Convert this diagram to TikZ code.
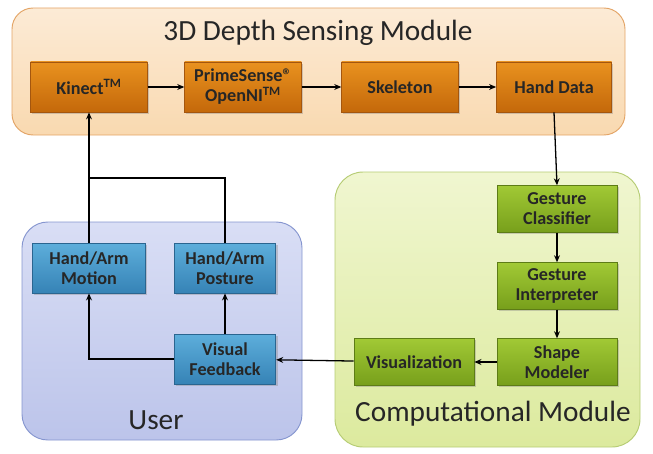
\documentclass[tikz,border=0pt]{standalone}
\usepackage{fontspec}
\setmainfont{Carlito}
\usetikzlibrary{arrows.meta,shadows}
\definecolor{peachtop}{HTML}{FCEBD6}
\definecolor{peachbot}{HTML}{F9D9B0}
\definecolor{peachline}{HTML}{E3A466}
\definecolor{bluetop}{HTML}{D9DEF5}
\definecolor{bluebot}{HTML}{BCC4EA}
\definecolor{blueline}{HTML}{8595CF}
\definecolor{greentop}{HTML}{F0F6D0}
\definecolor{greenbot}{HTML}{DCEA9E}
\definecolor{greenline}{HTML}{B6CC74}
\definecolor{orangetop}{HTML}{E9921F}
\definecolor{orangebot}{HTML}{C4680A}
\definecolor{orangeline}{HTML}{A4560E}
\definecolor{stepbluetop}{HTML}{5DAEDB}
\definecolor{stepbluebot}{HTML}{3683B6}
\definecolor{stepblueline}{HTML}{2A6590}
\definecolor{stepgreentop}{HTML}{A1C935}
\definecolor{stepgreenbot}{HTML}{779F1B}
\definecolor{stepgreenline}{HTML}{5D7C16}
\begin{document}
\begin{tikzpicture}[x=0.03cm, y=-0.03cm,
    blockbox/.style={draw, line width=0.6pt, align=center, font=\fontsize{15.5}{17}\selectfont\bfseries,
        text=black!85, inner sep=2pt, drop shadow={opacity=0.35, shadow xshift=1.5pt, shadow yshift=-1.5pt}},
    orangebox/.style={blockbox, draw=orangeline, top color=orangetop, bottom color=orangebot,
        minimum width=3.5cm, minimum height=1.5cm},
    bluebox/.style={blockbox, draw=stepblueline, top color=stepbluetop, bottom color=stepbluebot,
        minimum height=1.5cm},
    greenbox/.style={blockbox, draw=stepgreenline, top color=stepgreentop, bottom color=stepgreenbot,
        minimum width=3.6cm, minimum height=1.4cm},
    flow/.style={-{Stealth[length=6pt,width=5pt]}, line width=1.1pt},
    link/.style={line width=1.1pt},
    modtitle/.style={font=\fontsize{25}{27}\selectfont, text=black!85}]
    \useasboundingbox (0, 0) rectangle (653, 453);
    % module frames
    \draw[draw=peachline, line width=0.8pt, top color=peachtop, bottom color=peachbot, rounded corners=18] (12, 8) rectangle (625, 135);
    \draw[draw=blueline, line width=0.8pt, top color=bluetop, bottom color=bluebot, rounded corners=22] (22, 222) rectangle (302, 440);
    \draw[draw=greenline, line width=0.8pt, top color=greentop, bottom color=greenbot, rounded corners=24] (335, 172) rectangle (640, 447);
    \node[modtitle] (depthtitle) at (318, 33) {3D Depth Sensing Module};
    \node[modtitle] (usertitle) at (156, 420) {User};
    \node[modtitle] (comptitle) at (493, 414) {Computational Module};
    % depth sensing row
    \node[orangebox] (kinect) at (89, 87) {Kinect\textsuperscript{TM}};
    \node[orangebox] (prime) at (243, 87) {PrimeSense®\\OpenNI\textsuperscript{TM}};
    \node[orangebox] (skel) at (400, 87) {Skeleton};
    \node[orangebox, minimum width=3.45cm] (hand) at (554, 87) {Hand Data};
    % computational column
    \node[greenbox] (classif) at (557, 209) {Gesture\\Classifier};
    \node[greenbox] (interp) at (557, 286) {Gesture\\Interpreter};
    \node[greenbox] (shape) at (557, 362) {Shape\\Modeler};
    \node[greenbox] (visual) at (414, 362) {Visualization};
    % user side
    \node[bluebox, minimum width=3.4cm] (motion) at (89, 268) {Hand/Arm\\Motion};
    \node[bluebox, minimum width=3.05cm] (posture) at (225, 268) {Hand/Arm\\Posture};
    \node[bluebox, minimum width=3.05cm] (feedback) at (225, 359) {Visual\\Feedback};
    \coordinate (merge) at (89, 178);
    % connectors
    \draw[flow] (kinect) -- (prime);
    \draw[flow] (prime) -- (skel);
    \draw[flow] (skel) -- (hand);
    \draw[flow] (hand.south) -- (classif.north);
    \draw[flow] (classif) -- (interp);
    \draw[flow] (interp) -- (shape);
    \draw[flow] (shape) -- (visual);
    \draw[flow] (visual) -- (feedback);
    \draw[flow] (feedback) -- (posture);
    \draw[flow] (feedback.west) -| (motion.south);
    \draw[flow] (motion.north) -- (kinect.south);
    \draw[link] (posture.north) |- (merge);
\end{tikzpicture}
\end{document}
